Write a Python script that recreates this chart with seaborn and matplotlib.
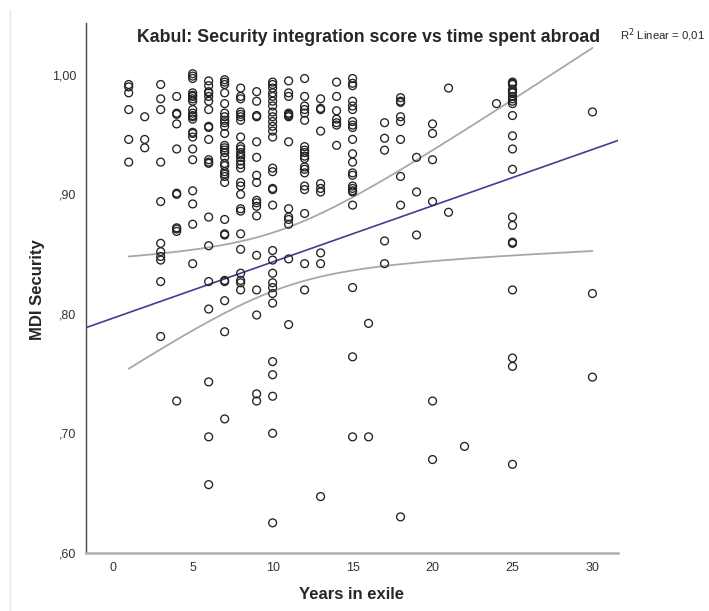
import numpy as np
import pandas as pd
import matplotlib
matplotlib.use("Agg")
import matplotlib.pyplot as plt
from matplotlib.lines import Line2D
from matplotlib.ticker import FuncFormatter
import seaborn as sns

# ---------------- data ----------------
years_1 = [0.992, 0.990, 0.985, 0.971, 0.946, 0.927]
years_2 = [0.965, 0.946, 0.939]
years_3 = [0.992, 0.980, 0.971, 0.927, 0.894, 0.859, 0.852, 0.848, 0.845, 0.827, 0.781]
years_4 = [0.982, 0.968, 0.967, 0.959, 0.938, 0.901, 0.900, 0.872, 0.871, 0.869, 0.727]
years_5 = [1.001, 0.999, 0.997, 0.985, 0.983, 0.982, 0.980, 0.978, 0.971, 0.968, 0.966,
           0.965, 0.963, 0.952, 0.951, 0.948, 0.938, 0.929, 0.903, 0.892, 0.875, 0.842]
years_6 = [0.995, 0.991, 0.986, 0.985, 0.982, 0.978, 0.971, 0.957, 0.956, 0.946, 0.929,
           0.927, 0.926, 0.881, 0.857, 0.827, 0.804, 0.743, 0.697, 0.657]
years_7 = [0.996, 0.994, 0.992, 0.985, 0.976, 0.968, 0.965, 0.962, 0.960, 0.957, 0.951,
           0.941, 0.939, 0.937, 0.935, 0.931, 0.926, 0.924, 0.919, 0.917, 0.915, 0.910,
           0.879, 0.867, 0.866, 0.828, 0.827, 0.811, 0.785, 0.712]
years_8 = [0.989, 0.982, 0.980, 0.969, 0.967, 0.965, 0.962, 0.948, 0.940, 0.938, 0.935,
           0.933, 0.931, 0.928, 0.925, 0.922, 0.910, 0.907, 0.900, 0.888, 0.886, 0.867,
           0.854, 0.834, 0.828, 0.826, 0.820]
years_9 = [0.986, 0.978, 0.966, 0.965, 0.944, 0.931, 0.916, 0.910, 0.895, 0.893, 0.890,
           0.882, 0.849, 0.820, 0.799, 0.733, 0.727]
years_10 = [0.994, 0.992, 0.989, 0.985, 0.982, 0.978, 0.974, 0.969, 0.965, 0.961, 0.957,
            0.953, 0.948, 0.922, 0.919, 0.905, 0.904, 0.891, 0.853, 0.845, 0.834, 0.826,
            0.822, 0.817, 0.809, 0.760, 0.749, 0.731, 0.700, 0.625]
years_11 = [0.995, 0.985, 0.982, 0.968, 0.967, 0.966, 0.965, 0.944, 0.888, 0.881, 0.879,
            0.875, 0.846, 0.791]
years_12 = [0.997, 0.982, 0.974, 0.971, 0.968, 0.962, 0.940, 0.937, 0.935, 0.932, 0.930,
            0.923, 0.921, 0.918, 0.907, 0.904, 0.884, 0.842, 0.820]
years_13 = [0.980, 0.972, 0.971, 0.953, 0.909, 0.905, 0.902, 0.851, 0.842, 0.647]
years_14 = [0.994, 0.982, 0.970, 0.963, 0.960, 0.958, 0.941]
years_15 = [0.997, 0.993, 0.991, 0.978, 0.974, 0.971, 0.961, 0.958, 0.956, 0.946, 0.934,
            0.927, 0.918, 0.916, 0.907, 0.905, 0.903, 0.902, 0.891, 0.822, 0.764, 0.697]
years_16 = [0.792, 0.697]
years_17 = [0.960, 0.947, 0.937, 0.861, 0.842]
years_18 = [0.981, 0.978, 0.977, 0.965, 0.961, 0.946, 0.915, 0.891, 0.630]
years_19 = [0.931, 0.902, 0.866]
years_20 = [0.959, 0.951, 0.929, 0.894, 0.727, 0.678]
years_21 = [0.989, 0.885]
years_22 = [0.689]
years_24 = [0.976]
years_25 = [0.994, 0.993, 0.992, 0.988, 0.986, 0.985, 0.982, 0.980, 0.978, 0.976, 0.966,
            0.949, 0.938, 0.921, 0.881, 0.874, 0.860, 0.859, 0.820, 0.763, 0.756, 0.674]
years_30 = [0.969, 0.817, 0.747]

groups = {1: years_1, 2: years_2, 3: years_3, 4: years_4, 5: years_5, 6: years_6,
          7: years_7, 8: years_8, 9: years_9, 10: years_10, 11: years_11, 12: years_12,
          13: years_13, 14: years_14, 15: years_15, 16: years_16, 17: years_17,
          18: years_18, 19: years_19, 20: years_20, 21: years_21, 22: years_22,
          24: years_24, 25: years_25, 30: years_30}

# fit line and 95% CI parameters as displayed by SPSS
fit_intercept = 0.7963
fit_slope = 0.00471
ci_x_center = 10.58
ci_var_center = 0.000595
ci_var_slope = 1.7587e-5
ci_x_range = (1, 30)

x_ticks = [0, 5, 10, 15, 20, 25, 30]
y_ticks = [0.60, 0.70, 0.80, 0.90, 1.00]
title = "Kabul: Security integration score vs time spent abroad"
r2_label = "R$^2$ Linear = 0,01"

df = pd.DataFrame([(k, v) for k, vals in groups.items() for v in vals],
                  columns=["Years in exile", "MDI Security"])

# ---------------- plot ----------------
sns.set_style("white")
plt.rcParams["font.family"] = ["Liberation Sans", "DejaVu Sans"]

fig = plt.figure(figsize=(7.09, 6.11), dpi=100)
ax = fig.add_axes([0.1213, 0.0954, 0.8717 - 0.1213, 0.9624 - 0.0954])

sns.scatterplot(data=df, x="Years in exile", y="MDI Security", ax=ax,
                marker="o", s=32, facecolor="none", edgecolor="#222222",
                linewidth=0.95, zorder=3)
for c in ax.collections:
    c.set_facecolor("none")

xmin, xmax = -1.67, 31.6
xs_full = np.linspace(xmin, xmax, 50)
sns.lineplot(x=xs_full, y=fit_intercept + fit_slope * xs_full, ax=ax,
             color="#3c3f8e", linewidth=1.2, zorder=2)

xs_ci = np.linspace(ci_x_range[0], ci_x_range[1], 200)
fit_ci = fit_intercept + fit_slope * xs_ci
half = np.sqrt(ci_var_center + ci_var_slope * (xs_ci - ci_x_center) ** 2)
sns.lineplot(x=xs_ci, y=fit_ci + half, ax=ax, color="#a8a8a8", linewidth=1.3, zorder=2)
sns.lineplot(x=xs_ci, y=fit_ci - half, ax=ax, color="#a8a8a8", linewidth=1.3, zorder=2)

ax.set_xlim(xmin, xmax)
ax.set_ylim(0.60, 1.0435)
ax.set_xticks(x_ticks)
ax.set_yticks(y_ticks)
ax.yaxis.set_major_formatter(FuncFormatter(lambda v, p: f"{v:.2f}".lstrip("0").replace(".", ",")))
ax.tick_params(axis="both", direction="out", length=5, width=1, colors="#444444",
               labelsize=9, labelcolor="#333333", pad=2)
ax.tick_params(axis="x", color="#555555")

for side in ["top", "right"]:
    ax.spines[side].set_visible(False)
ax.spines["left"].set_color("#444444")
ax.spines["left"].set_linewidth(1.0)
ax.spines["bottom"].set_color("#b0b0b0")
ax.spines["bottom"].set_linewidth(1.8)

ax.set_xlabel("Years in exile", fontsize=12, fontweight="bold")
ax.set_ylabel("MDI Security", fontsize=12, fontweight="bold")
ax.xaxis.set_label_coords(0.5 + (351 - 352) / 532, -0.064)
ax.yaxis.set_label_coords(-0.077, 0.5 + (529.7 / 2 + 23 - 290) / 529.7)
if ax.get_legend():
    ax.get_legend().remove()

fig.text(0.5205, 0.939, title, ha="center", va="center", fontsize=12.8, fontweight="bold")
fig.text(0.875, 0.942, r2_label, ha="left", va="center", fontsize=8.2)

fig.add_artist(Line2D([10 / 709, 10 / 709], [0.0, 1 - 10 / 611],
                      transform=fig.transFigure, color="#dfe6ee", linewidth=1))

fig.savefig("out.png", dpi=100)
